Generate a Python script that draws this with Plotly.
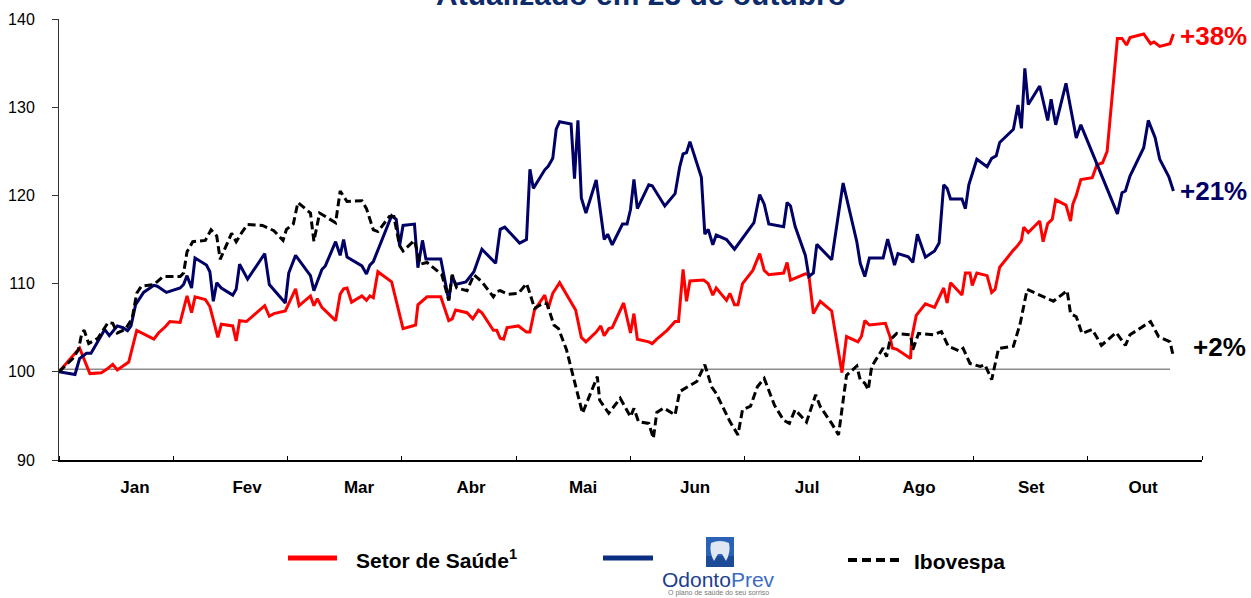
import plotly.graph_objects as go

# ---------------- data (x = position in months from 1 Jan, y = index, base 100) -------------
months = ["Jan", "Fev", "Mar", "Abr", "Mai", "Jun", "Jul", "Ago", "Set", "Out"]

saude_x = [0.00, 0.18, 0.27, 0.37, 0.42, 0.47, 0.51, 0.61, 0.68, 0.83, 0.87, 0.93, 0.97, 1.06, 1.12, 1.16,
           1.19, 1.28, 1.32, 1.39, 1.42, 1.52, 1.55, 1.58, 1.64, 1.80, 1.84, 1.88, 1.98, 2.07, 2.10, 2.20,
           2.23, 2.26, 2.30, 2.42, 2.46, 2.49, 2.52, 2.56, 2.65, 2.69, 2.72, 2.75, 2.79, 2.91, 3.01, 3.12,
           3.14, 3.22, 3.34, 3.41, 3.44, 3.47, 3.57, 3.62, 3.67, 3.70, 3.80, 3.83, 3.86, 3.89, 3.92, 4.02,
           4.09, 4.12, 4.16, 4.25, 4.28, 4.32, 4.38, 4.49, 4.52, 4.57, 4.61, 4.70, 4.74, 4.77, 4.81, 4.84,
           4.94, 5.00, 5.03, 5.06, 5.16, 5.19, 5.23, 5.32, 5.39, 5.42, 5.46, 5.49, 5.52, 5.64, 5.68, 5.72,
           5.75, 5.84, 5.87, 5.91, 5.94, 5.98, 6.07, 6.13, 6.17, 6.21, 6.34, 6.37, 6.40, 6.53, 6.56, 6.60,
           6.66, 6.76, 6.79, 6.85, 6.89, 6.99, 7.02, 7.05, 7.09, 7.23, 7.27, 7.29, 7.33, 7.45, 7.46, 7.50,
           7.58, 7.66, 7.74, 7.77, 7.80, 7.90, 7.93, 7.97, 7.99, 8.03, 8.12, 8.16, 8.19, 8.23, 8.35, 8.38,
           8.42, 8.44, 8.48, 8.58, 8.61, 8.65, 8.69, 8.72, 8.81, 8.85, 8.87, 8.90, 8.94, 9.04, 9.08, 9.13,
           9.17, 9.26, 9.30, 9.34, 9.37, 9.49, 9.55, 9.58, 9.63, 9.72, 9.75]
saude_y = [100.0, 102.7, 99.8, 99.9, 100.3, 100.85, 100.2, 101.1, 104.7, 103.7, 104.4, 105.1, 105.7, 105.6,
           108.6, 106.7, 108.5, 108.2, 107.4, 103.9, 105.4, 105.2, 103.5, 105.8, 105.7, 107.5, 106.3, 106.6,
           106.9, 109.4, 107.5, 108.6, 107.5, 108.3, 107.3, 105.8, 108.8, 109.4, 109.5, 107.9, 108.6, 108.1,
           108.6, 108.4, 111.35, 110.2, 104.9, 105.3, 107.6, 108.5, 108.5, 105.8, 106.0, 107.0, 106.7, 106.0,
           107.0, 106.7, 104.7, 104.7, 103.8, 103.7, 105.0, 105.2, 104.5, 104.5, 107.0, 108.7, 107.2, 108.9,
           110.1, 107.6, 107.0, 103.9, 103.4, 104.5, 105.2, 104.1, 104.9, 105.0, 107.8, 104.4, 106.6, 103.7,
           103.4, 103.2, 103.7, 104.7, 105.7, 105.7, 111.6, 108.0, 110.3, 110.4, 110.0, 108.7, 109.5, 108.1,
           108.9, 107.6, 107.6, 110.0, 111.5, 113.4, 111.5, 111.0, 111.2, 112.4, 110.4, 111.1, 111.0, 106.6,
           108.0, 106.9, 104.7, 99.9, 104.0, 103.4, 104.0, 105.8, 105.3, 105.5, 104.0, 102.7, 102.55, 101.5,
           103.8, 106.4, 107.7, 107.3, 109.5, 107.8, 110.1, 108.7, 111.2, 111.2, 109.8, 111.2, 110.9, 109.0,
           109.35, 111.85, 113.8, 114.2, 114.9, 116.4, 115.8, 117.1, 114.75, 116.8, 117.3, 119.5, 118.9,
           117.1, 119.0, 120.0, 121.8, 122.0, 123.45, 123.7, 125.0, 137.8, 137.8, 137.05, 137.9, 138.3,
           137.2, 137.4, 136.9, 137.2, 138.3]

odonto_x = [0.00, 0.14, 0.18, 0.24, 0.28, 0.40, 0.44, 0.51, 0.56, 0.60, 0.63, 0.67, 0.74, 0.83, 0.86, 0.94,
            1.06, 1.09, 1.12, 1.16, 1.19, 1.29, 1.32, 1.35, 1.38, 1.42, 1.52, 1.55, 1.58, 1.65, 1.80, 1.84,
            1.98, 2.01, 2.07, 2.20, 2.23, 2.30, 2.33, 2.42, 2.46, 2.49, 2.52, 2.65, 2.69, 2.72, 2.75, 2.91,
            2.95, 2.98, 3.01, 3.11, 3.14, 3.18, 3.21, 3.34, 3.41, 3.44, 3.47, 3.56, 3.63, 3.70, 3.82, 3.86,
            3.90, 4.03, 4.09, 4.12, 4.15, 4.25, 4.28, 4.32, 4.35, 4.38, 4.48, 4.51, 4.54, 4.57, 4.61, 4.70,
            4.77, 4.80, 4.84, 4.93, 4.97, 5.00, 5.03, 5.06, 5.16, 5.19, 5.30, 5.39, 5.43, 5.46, 5.49, 5.52,
            5.62, 5.65, 5.68, 5.72, 5.75, 5.84, 5.91, 6.08, 6.13, 6.17, 6.21, 6.34, 6.37, 6.40, 6.44, 6.53,
            6.56, 6.60, 6.63, 6.76, 6.86, 6.98, 7.01, 7.05, 7.09, 7.21, 7.25, 7.31, 7.34, 7.43, 7.47, 7.51,
            7.58, 7.66, 7.70, 7.74, 7.77, 7.80, 7.90, 7.93, 7.96, 8.03, 8.12, 8.16, 8.20, 8.23, 8.35, 8.39,
            8.42, 8.45, 8.48, 8.58, 8.65, 8.68, 8.72, 8.81, 8.90, 8.94, 9.26, 9.30, 9.33, 9.37, 9.49, 9.53,
            9.59, 9.63, 9.71, 9.75]
odonto_y = [100.0, 99.7, 101.5, 102.1, 102.1, 104.8, 104.1, 105.2, 105.0, 104.65, 105.2, 107.6, 109.0, 109.8,
            109.7, 109.0, 109.5, 109.9, 110.9, 109.5, 112.9, 112.1, 111.35, 108.0, 110.1, 109.5, 108.7, 109.35,
            112.2, 110.5, 113.4, 109.9, 107.8, 111.2, 113.2, 110.9, 109.2, 111.6, 112.0, 114.75, 113.2, 115.0,
            113.0, 112.0, 111.1, 112.1, 112.5, 117.7, 117.3, 114.3, 116.6, 116.75, 111.8, 114.9, 112.8, 112.8,
            108.1, 110.9, 109.9, 110.2, 111.35, 113.9, 112.3, 116.15, 116.4, 114.6, 115.0, 122.95, 120.8, 122.9,
            123.3, 124.2, 127.5, 128.35, 128.1, 121.9, 128.5, 119.7, 118.0, 121.75, 115.0, 115.6, 114.4, 116.75,
            116.75, 118.4, 121.8, 118.5, 121.2, 121.1, 118.8, 120.2, 123.2, 124.7, 124.85, 126.1, 122.05, 115.6,
            116.15, 114.4, 115.5, 115.0, 113.9, 116.9, 120.1, 119.0, 116.75, 116.45, 119.2, 118.8, 116.5, 113.2,
            110.8, 111.2, 114.45, 112.7, 121.4, 114.75, 112.3, 110.8, 112.9, 112.9, 115.05, 112.1, 113.4, 113.05,
            112.4, 115.6, 113.0, 113.7, 114.6, 121.2, 120.8, 119.6, 119.6, 118.5, 121.2, 124.1, 123.25, 124.2,
            124.5, 126.0, 127.5, 130.25, 127.6, 134.4, 130.3, 132.4, 128.5, 130.9, 128.0, 132.7, 126.5, 128.0,
            117.9, 120.3, 120.5, 122.2, 125.4, 128.5, 126.55, 124.1, 122.1, 120.5]

ibov_x = [0.00, 0.12, 0.17, 0.20, 0.22, 0.26, 0.34, 0.43, 0.47, 0.51, 0.58, 0.64, 0.68, 0.72, 0.83, 0.91,
          1.06, 1.09, 1.12, 1.17, 1.28, 1.33, 1.38, 1.41, 1.51, 1.55, 1.60, 1.65, 1.78, 1.83, 1.88, 1.96,
          1.99, 2.05, 2.09, 2.20, 2.23, 2.28, 2.42, 2.46, 2.52, 2.65, 2.69, 2.75, 2.79, 2.89, 2.93, 2.98,
          3.01, 3.11, 3.16, 3.22, 3.35, 3.41, 3.44, 3.48, 3.57, 3.63, 3.70, 3.80, 3.83, 3.86, 3.93, 4.02,
          4.09, 4.12, 4.16, 4.24, 4.27, 4.33, 4.37, 4.44, 4.50, 4.53, 4.58, 4.65, 4.71, 4.73, 4.81, 4.91,
          5.00, 5.03, 5.07, 5.16, 5.20, 5.23, 5.29, 5.39, 5.43, 5.50, 5.58, 5.65, 5.71, 5.75, 5.87, 5.94,
          5.98, 6.05, 6.11, 6.17, 6.26, 6.34, 6.39, 6.44, 6.54, 6.62, 6.66, 6.76, 6.82, 6.89, 6.98, 7.01,
          7.05, 7.08, 7.11, 7.21, 7.24, 7.27, 7.33, 7.45, 7.47, 7.52, 7.65, 7.72, 7.78, 7.88, 7.91, 7.97,
          8.06, 8.10, 8.16, 8.22, 8.35, 8.41, 8.47, 8.70, 8.82, 8.85, 8.90, 8.95, 9.04, 9.12, 9.25, 9.33,
          9.37, 9.55, 9.62, 9.72, 9.75]
ibov_y = [100.0, 101.5, 102.5, 104.4, 104.7, 103.2, 103.8, 105.6, 105.5, 104.4, 104.8, 106.05, 108.9, 109.7,
          109.9, 110.8, 110.8, 111.2, 113.6, 114.75, 114.9, 116.1, 115.4, 112.75, 115.7, 114.75, 115.8, 116.7,
          116.6, 116.3, 116.0, 114.9, 116.15, 116.75, 119.2, 118.0, 114.8, 118.0, 116.9, 120.5, 119.3, 119.4,
          118.5, 116.1, 115.9, 117.6, 117.6, 114.3, 113.7, 114.9, 112.2, 112.4, 111.0, 108.1, 111.0, 109.5,
          109.2, 111.0, 110.2, 108.5, 109.1, 109.2, 108.8, 108.9, 110.0, 108.9, 107.2, 107.8, 107.7, 105.3,
          104.9, 102.5, 99.5, 97.95, 95.3, 97.55, 99.45, 96.8, 95.3, 97.0, 94.9, 95.85, 94.35, 94.15, 92.45,
          95.4, 95.9, 95.1, 97.75, 98.3, 98.9, 100.8, 98.3, 97.55, 94.35, 92.85, 95.7, 96.1, 98.3, 99.25, 96.2,
          94.5, 94.15, 95.7, 94.3, 97.4, 96.05, 94.15, 92.85, 99.6, 100.65, 99.1, 98.7, 97.95, 100.6, 102.7,
          101.7, 103.6, 104.35, 104.2, 102.5, 104.35, 104.2, 104.55, 102.9, 102.35, 102.65, 100.95, 100.6,
          100.8, 99.1, 102.65, 102.9, 105.5, 109.35, 108.0, 109.2, 106.6, 106.25, 104.35, 104.8, 103.0, 104.45,
          103.0, 104.2, 105.7, 104.0, 103.4, 101.7]

series_names = ["Setor de Saúde", "OdontoPrev", "Ibovespa"]
end_labels = ["+38%", "+21%", "+2%"]
end_label_y = [138.1, 120.5, 102.8]
baseline_value = 100.3
title_text = "Atualizado em 23 de outubro"

# ---------------- styling ----------------
FONT = "Arial, 'Liberation Sans', sans-serif"
RED = "#ff0000"
NAVY = "#000066"
BLACK = "#000000"
TITLE_BLUE = "#0d2b6b"

W, H = 1251, 598
ML, MR, MT, MB = 59, 49, 19, 138
PW, PH = W - ML - MR, H - MT - MB


def px_x(p):
    return (p - ML) / PW


def px_y(p):
    return (H - MB - p) / PH


fig = go.Figure()
fig.add_trace(go.Scatter(x=saude_x, y=saude_y, mode="lines", name=series_names[0],
                         line=dict(color=RED, width=3)))
fig.add_trace(go.Scatter(x=odonto_x, y=odonto_y, mode="lines", name=series_names[1],
                         line=dict(color=NAVY, width=3)))
fig.add_trace(go.Scatter(x=ibov_x, y=ibov_y, mode="lines", name=series_names[2],
                         line=dict(color=BLACK, width=3, dash="8px,4px")))

# baseline at 100
fig.add_shape(type="line", xref="x", yref="y", x0=0, x1=saude_x[-1] - 0.03,
              y0=baseline_value, y1=baseline_value, line=dict(color="#8c8c8c", width=1.5),
              layer="below")

# end labels
label_colors = [RED, NAVY, BLACK]
label_x = [9.79, 9.79, 9.90]
for txt, yv, col, xv in zip(end_labels, end_label_y, label_colors, label_x):
    fig.add_annotation(x=xv, y=yv, xref="x", yref="y", text=f"<b>{txt}</b>", showarrow=False,
                       xanchor="left", yanchor="middle", font=dict(family=FONT, size=26, color=col))

# title (cut off at top)
fig.add_annotation(x=px_x(641), y=px_y(-6), xref="paper", yref="paper", text=f"<b>{title_text}</b>",
                   showarrow=False, xanchor="center", yanchor="middle",
                   font=dict(family=FONT, size=30, color=TITLE_BLUE))

# ---------------- manual legend ----------------
LEG_Y = 558
LEG_FONT = 21
fig.add_shape(type="line", xref="paper", yref="paper", x0=px_x(288), x1=px_x(337),
              y0=px_y(LEG_Y), y1=px_y(LEG_Y), line=dict(color=RED, width=5))
fig.add_annotation(x=px_x(354), y=px_y(LEG_Y + 1), xref="paper", yref="paper",
                   text="<b>Setor de Saúde<sup>1</sup></b>", showarrow=False, xanchor="left",
                   yanchor="middle", font=dict(family=FONT, size=LEG_FONT, color=BLACK))

fig.add_shape(type="line", xref="paper", yref="paper", x0=px_x(603), x1=px_x(653),
              y0=px_y(LEG_Y), y1=px_y(LEG_Y), line=dict(color="#0a2f80", width=5))
# OdontoPrev logo: icon + text
fig.add_shape(type="rect", xref="paper", yref="paper", x0=px_x(706), x1=px_x(734),
              y0=px_y(567), y1=px_y(537), line=dict(width=0), fillcolor="#2a62b5")
fig.add_shape(type="rect", xref="paper", yref="paper", x0=px_x(706), x1=px_x(734),
              y0=px_y(567), y1=px_y(556), line=dict(width=0), fillcolor="#1b4a96")
tooth = (f"M {px_x(711)},{px_y(543)} Q {px_x(720)},{px_y(539)} {px_x(729)},{px_y(543)} "
         f"Q {px_x(731)},{px_y(552)} {px_x(726)},{px_y(561)} L {px_x(722)},{px_y(554)} "
         f"L {px_x(718)},{px_y(554)} L {px_x(714)},{px_y(561)} Q {px_x(709)},{px_y(552)} "
         f"{px_x(711)},{px_y(543)} Z")
fig.add_shape(type="path", xref="paper", yref="paper", path=tooth, line=dict(width=0),
              fillcolor="rgba(255,255,255,0.85)")
fig.add_annotation(x=px_x(718), y=px_y(579), xref="paper", yref="paper",
                   text="<span style='color:#1c3f8e'>Odonto</span><span style='color:#3b6cc3'>Prev</span>",
                   showarrow=False, xanchor="center", yanchor="middle",
                   font=dict(family="'Liberation Sans Narrow', Arial, sans-serif", size=21))
fig.add_annotation(x=px_x(718), y=px_y(593), xref="paper", yref="paper",
                   text="O plano de saúde do seu sorriso", showarrow=False, xanchor="center",
                   yanchor="middle", font=dict(family=FONT, size=7, color="#777777"))

fig.add_shape(type="line", xref="paper", yref="paper", x0=px_x(848), x1=px_x(900),
              y0=px_y(LEG_Y + 2), y1=px_y(LEG_Y + 2), line=dict(color=BLACK, width=4, dash="9px,5px"))
fig.add_annotation(x=px_x(912), y=px_y(LEG_Y + 3), xref="paper", yref="paper",
                   text="<b>Ibovespa</b>", showarrow=False, xanchor="left", yanchor="middle",
                   font=dict(family=FONT, size=LEG_FONT, color=BLACK))

# ---------------- axes ----------------
label_pos = [0.665 + 0.98 * i for i in range(len(months))]
fig.update_xaxes(range=[0, 10], showline=True, linecolor=BLACK, linewidth=2, showgrid=False,
                 zeroline=False, automargin=False, tickmode="array", tickvals=label_pos, ticktext=months,
                 ticks="", ticklabelstandoff=11,
                 tickfont=dict(family=FONT, size=17, color=BLACK, weight="bold"),
                 minor=dict(tickmode="array", tickvals=list(range(0, 11)), ticks="inside", ticklen=4,
                            tickwidth=1, tickcolor=BLACK, showgrid=False))
fig.update_yaxes(range=[90, 140], dtick=10, tick0=90, showline=True, linecolor="#333333", linewidth=1,
                 showgrid=False, zeroline=False, automargin=False, ticks="outside", ticklen=6,
                 tickcolor="#333333", ticklabelstandoff=14, tickfont=dict(family=FONT, size=16, color=BLACK))

fig.update_layout(width=W, height=H, autosize=False, showlegend=False,
                  margin=dict(l=ML, r=MR, t=MT, b=MB), plot_bgcolor="white", paper_bgcolor="white")

fig.write_html("out.html", config={"displayModeBar": False},
               post_script="document.body.style.margin='0px';document.body.style.overflow='hidden';")
